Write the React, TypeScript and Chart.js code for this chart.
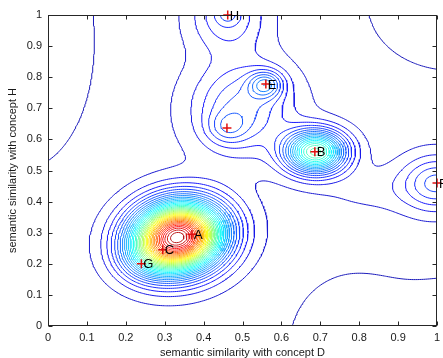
import React, { useEffect, useRef } from 'react';
import { Chart, registerables } from 'chart.js';
Chart.register(...registerables);

// Concept points (red markers) and their labels
const conceptLabels = ['A', 'C', 'G', 'B', 'E', '', 'H', 'F'];
const conceptX = [0.37, 0.295, 0.24, 0.686, 0.56, 0.46, 0.462, 1.0];
const conceptY = [0.295, 0.245, 0.2, 0.56, 0.778, 0.637, 1.0, 0.46];

// Density kernels (centre, height, spread, tilt)
const kernelX = [0.333, 0.25, 0.688, 0.85, 1.0, 0.462, 0.462, 0.5, 0.56, 0.46, 0.45, -0.05, 0.78, 1.05, 1.02];
const kernelY = [0.285, 0.21, 0.56, 0.44, 0.46, 1.0, 1.0, 0.7, 0.777, 0.637, 0.45, 0.85, -0.05, -0.05, 1.02];
const kernelAmp = [0.93, 0.06, 0.42, 0.02, 0.12, 0.09, 0.04, 0.12, 0.14, 0.06, 0.04, -0.03, -0.04, -0.04, -0.045];
const kernelSx = [0.08, 0.045, 0.052, 0.1, 0.06, 0.065, 0.02, 0.085, 0.03, 0.035, 1.2, 0.12, 0.1, 0.12, 0.11];
const kernelSy = [0.072, 0.045, 0.046, 0.05, 0.06, 0.08, 0.02, 0.1, 0.03, 0.035, 1.2, 0.25, 0.14, 0.12, 0.11];
const kernelAngle = [35, 0, 0, 0, 0, 0, 0, 0, 0, 0, 0, 0, 0, 0, 0];

// Contour levels
const contourLevels = [
  0.025, 0.05, 0.075, 0.1, 0.125, 0.15, 0.175, 0.2, 0.225, 0.25,
  0.275, 0.3, 0.325, 0.35, 0.375, 0.4, 0.425, 0.45, 0.475, 0.5,
  0.525, 0.55, 0.575, 0.6, 0.625, 0.65, 0.675, 0.7, 0.725, 0.75,
  0.775, 0.8, 0.825, 0.85, 0.875, 0.9, 0.925, 0.95, 0.975, 1.0,
];

const tickValues = [0, 0.1, 0.2, 0.3, 0.4, 0.5, 0.6, 0.7, 0.8, 0.9, 1];
const tickLabels = ['0', '0.1', '0.2', '0.3', '0.4', '0.5', '0.6', '0.7', '0.8', '0.9', '1'];
const xTitle = 'semantic similarity with concept D';
const yTitle = 'semantic similarity with concept H';

const FONT = '"Liberation Sans", Arial, Helvetica, sans-serif';

function field(x: number, y: number): number {
  let f = 0;
  for (let k = 0; k < kernelX.length; k++) {
    const a = (kernelAngle[k] * Math.PI) / 180;
    const dx = x - kernelX[k];
    const dy = y - kernelY[k];
    const u = dx * Math.cos(a) + dy * Math.sin(a);
    const v = -dx * Math.sin(a) + dy * Math.cos(a);
    f += kernelAmp[k] * Math.exp(-(u * u) / (2 * kernelSx[k] * kernelSx[k]) - (v * v) / (2 * kernelSy[k] * kernelSy[k]));
  }
  return f;
}

function jet(t: number): string {
  const c = (v: number) => Math.max(0, Math.min(1, v));
  const s = 0.05 + 0.95 * t;
  const r = c(1.5 - Math.abs(4 * s - 3));
  const g = c(1.5 - Math.abs(4 * s - 2));
  const b = c(1.5 - Math.abs(4 * s - 1));
  const mix = (v: number) => Math.round((0.9 * v + 0.1) * 255);
  return `rgb(${mix(r)},${mix(g)},${mix(b)})`;
}

function contourLines(level: number, vals: Float64Array, N: number) {
  const hId = (i: number, j: number) => j * N + i;
  const vId = (i: number, j: number) => N * (N + 1) + j * (N + 1) + i;
  const val = (i: number, j: number) => vals[j * (N + 1) + i];
  const pts = new Map<number, [number, number]>();
  const sa: number[] = [];
  const sb: number[] = [];
  const edgePt = (id: number, i0: number, j0: number, i1: number, j1: number) => {
    if (!pts.has(id)) {
      const va = val(i0, j0);
      const vb = val(i1, j1);
      const t = (level - va) / (vb - va);
      pts.set(id, [(i0 + t * (i1 - i0)) / N, (j0 + t * (j1 - j0)) / N]);
    }
    return id;
  };
  for (let j = 0; j < N; j++) {
    for (let i = 0; i < N; i++) {
      const v0 = val(i, j), v1 = val(i + 1, j), v2 = val(i + 1, j + 1), v3 = val(i, j + 1);
      const idx = (v0 > level ? 1 : 0) | (v1 > level ? 2 : 0) | (v2 > level ? 4 : 0) | (v3 > level ? 8 : 0);
      if (idx === 0 || idx === 15) continue;
      const e0 = () => edgePt(hId(i, j), i, j, i + 1, j);
      const e1 = () => edgePt(vId(i + 1, j), i + 1, j, i + 1, j + 1);
      const e2 = () => edgePt(hId(i, j + 1), i, j + 1, i + 1, j + 1);
      const e3 = () => edgePt(vId(i, j), i, j, i, j + 1);
      const add = (a: number, b: number) => { sa.push(a); sb.push(b); };
      const center = (v0 + v1 + v2 + v3) / 4 > level;
      switch (idx) {
        case 1: case 14: add(e3(), e0()); break;
        case 2: case 13: add(e0(), e1()); break;
        case 3: case 12: add(e3(), e1()); break;
        case 4: case 11: add(e1(), e2()); break;
        case 6: case 9: add(e0(), e2()); break;
        case 7: case 8: add(e3(), e2()); break;
        case 5:
          if (center) { add(e0(), e1()); add(e2(), e3()); } else { add(e3(), e0()); add(e1(), e2()); }
          break;
        case 10:
          if (center) { add(e3(), e0()); add(e1(), e2()); } else { add(e0(), e1()); add(e2(), e3()); }
          break;
      }
    }
  }
  const adj = new Map<number, number[]>();
  for (let s = 0; s < sa.length; s++) {
    for (const e of [sa[s], sb[s]]) {
      const l = adj.get(e);
      if (l) l.push(s); else adj.set(e, [s]);
    }
  }
  const used = new Uint8Array(sa.length);
  const out: { x: number; y: number | null }[] = [];
  for (let s = 0; s < sa.length; s++) {
    if (used[s]) continue;
    used[s] = 1;
    const chain = [sa[s], sb[s]];
    for (const dir of [1, -1]) {
      let cur = dir === 1 ? sb[s] : sa[s];
      for (;;) {
        const l = adj.get(cur) || [];
        let nk = -1;
        for (const k of l) if (!used[k]) { nk = k; break; }
        if (nk < 0) break;
        used[nk] = 1;
        const nxt = sa[nk] === cur ? sb[nk] : sa[nk];
        if (dir === 1) chain.push(nxt); else chain.unshift(nxt);
        cur = nxt;
      }
    }
    for (const id of chain) {
      const p = pts.get(id)!;
      out.push({ x: p[0], y: p[1] });
    }
    const last = pts.get(chain[chain.length - 1])!;
    out.push({ x: last[0], y: null });
  }
  return out;
}

const framePlugin = {
  id: 'frame',
  afterDatasetsDraw(chart: any) {
    const { ctx, chartArea: a, scales } = chart;
    ctx.save();
    ctx.strokeStyle = '#262626';
    ctx.lineWidth = 1;
    const L = Math.round(a.left) + 0.5, R = Math.round(a.right) - 0.5;
    const T = Math.round(a.top) + 0.5, B = Math.round(a.bottom) - 0.5;
    ctx.strokeRect(L, T, R - L, B - T);
    ctx.beginPath();
    for (const v of tickValues) {
      const px = Math.round(scales.x.getPixelForValue(v)) + 0.5;
      ctx.moveTo(px, B); ctx.lineTo(px, B - 4);
      ctx.moveTo(px, T); ctx.lineTo(px, T + 4);
      const py = Math.round(scales.y.getPixelForValue(v)) + 0.5;
      ctx.moveTo(L, py); ctx.lineTo(L + 4, py);
      ctx.moveTo(R, py); ctx.lineTo(R - 4, py);
    }
    ctx.stroke();
    ctx.fillStyle = '#000';
    ctx.font = `13px ${FONT}`;
    ctx.textAlign = 'left';
    ctx.textBaseline = 'middle';
    conceptLabels.forEach((lab, i) => {
      if (!lab) return;
      ctx.fillText(lab, scales.x.getPixelForValue(conceptX[i]) + 2, scales.y.getPixelForValue(conceptY[i]) + 1);
    });
    ctx.restore();
  },
};

export default function App() {
  const ref = useRef<HTMLCanvasElement>(null);
  useEffect(() => {
    const canvas = ref.current!;
    const N = 200;
    const vals = new Float64Array((N + 1) * (N + 1));
    for (let j = 0; j <= N; j++) for (let i = 0; i <= N; i++) vals[j * (N + 1) + i] = field(i / N, j / N);
    const lmin = contourLevels[0];
    const lmax = contourLevels[contourLevels.length - 1];
    const contourSets = contourLevels.map((lv) => ({
      type: 'scatter' as const,
      data: contourLines(lv, vals, N),
      showLine: true,
      spanGaps: false,
      pointRadius: 0,
      borderWidth: 1,
      borderColor: jet((lv - lmin) / (lmax - lmin)),
      backgroundColor: 'transparent',
    }));
    const markerSet = {
      type: 'scatter' as const,
      data: conceptX.map((x, i) => ({ x, y: conceptY[i] })),
      showLine: false,
      pointStyle: 'cross',
      pointRadius: 4.5,
      borderWidth: 1.5,
      borderColor: '#e01010',
      backgroundColor: '#e01010',
      clip: false,
    };
    const tickFont = { family: FONT, size: 11 };
    const chart = new Chart(canvas, {
      type: 'scatter',
      data: { datasets: [markerSet as any, ...contourSets] },
      options: {
        animation: false,
        responsive: false,
        events: [],
        plugins: { legend: { display: false }, tooltip: { enabled: false } },
        layout: { padding: { top: 15, right: 3, left: 0, bottom: 0 } },
        scales: {
          x: {
            type: 'linear', min: 0, max: 1,
            grid: { display: false, drawTicks: false, tickLength: 0 }, border: { display: false },
            afterBuildTicks: (s: any) => { s.ticks = tickValues.map((v) => ({ value: v })); },
            afterFit: (s: any) => { s.height = 32; s.paddingLeft = 0; s.paddingRight = 0; },
            ticks: { autoSkip: false, maxRotation: 0, padding: 5, color: '#1a1a1a', font: tickFont, callback: (_v: any, i: number) => tickLabels[i] },
            title: { display: true, text: xTitle, color: '#1a1a1a', font: { family: FONT, size: 11, lineHeight: 1 }, padding: { top: 0, bottom: 0 } },
          },
          y: {
            type: 'linear', min: 0, max: 1,
            grid: { display: false, drawTicks: false, tickLength: 0 }, border: { display: false },
            afterBuildTicks: (s: any) => { s.ticks = tickValues.map((v) => ({ value: v })); },
            afterFit: (s: any) => { s.width = 48; s.paddingTop = 0; s.paddingBottom = 0; },
            ticks: { autoSkip: false, padding: 6, color: '#1a1a1a', font: tickFont, callback: (_v: any, i: number) => tickLabels[i] },
            title: { display: true, text: yTitle, color: '#1a1a1a', font: { family: FONT, size: 11, lineHeight: 1 }, padding: { top: 7, bottom: 0 } },
          },
        },
      },
      plugins: [framePlugin],
    });
    return () => chart.destroy();
  }, []);
  return (
    <div style={{ position: 'absolute', left: 0, top: 0, width: 443, height: 358, background: '#fff' }}>
      <canvas ref={ref} width={443} height={358} style={{ display: 'block' }} />
    </div>
  );
}
